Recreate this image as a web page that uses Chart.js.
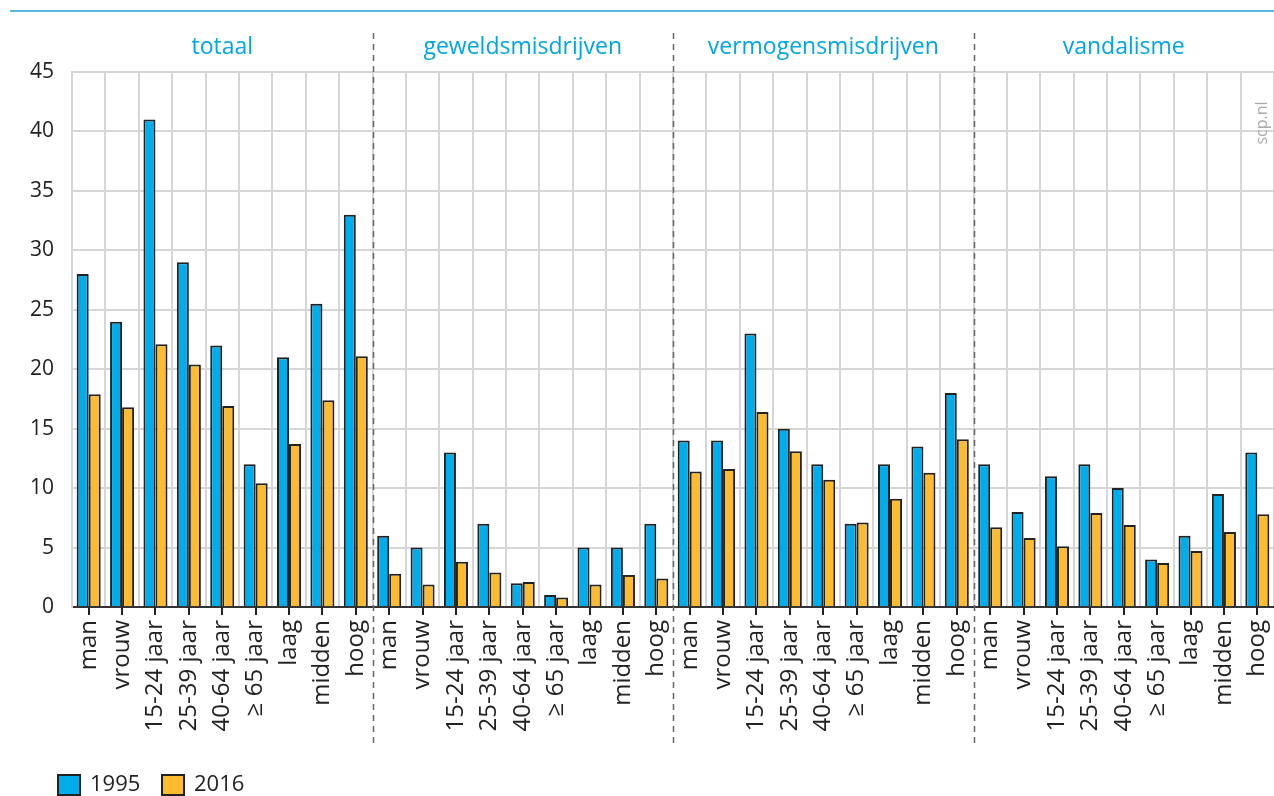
<!DOCTYPE html>
<html>
<head>
<meta charset="utf-8">
<script src="https://cdn.jsdelivr.net/npm/chart.js@4/dist/chart.umd.min.js"></script>
<style>
  html, body { margin: 0; padding: 0; background: #fff; }
  #wrap { width: 1274px; height: 796px; }
</style>
</head>
<body>
<div id="wrap"><canvas id="chart" width="1274" height="796"></canvas></div>
<script>
  // groups and sub-categories
  const groups = ["totaal", "geweldsmisdrijven", "vermogensmisdrijven", "vandalisme"];
  const subLabels = ["man", "vrouw", "15-24 jaar", "25-39 jaar", "40-64 jaar", "\u2265 65 jaar", "laag", "midden", "hoog"];

  // values per group (1995 / 2016)
  const v1995 = [
    28, 24, 41, 29, 22, 12, 21, 25.5, 33,
    6, 5, 13, 7, 2, 1, 5, 5, 7,
    14, 14, 23, 15, 12, 7, 12, 13.5, 18,
    12, 8, 11, 12, 10, 4, 6, 9.5, 13
  ];
  const v2016 = [
    17.9, 16.8, 22.1, 20.4, 16.9, 10.4, 13.7, 17.4, 21.1,
    2.8, 1.9, 3.8, 2.9, 2.1, 0.8, 1.9, 2.7, 2.4,
    11.4, 11.6, 16.4, 13.1, 10.7, 7.1, 9.1, 11.3, 14.1,
    6.7, 5.8, 5.1, 7.9, 6.9, 3.7, 4.7, 6.3, 7.8
  ];
  const yTicks = [0, 5, 10, 15, 20, 25, 30, 35, 40, 45];

  const labels = [];
  groups.forEach(function () { subLabels.forEach(function (s) { labels.push(s); }); });

  const FONT = "'Open Sans', 'Noto Sans', sans-serif";
  const CYAN = "#00a6e2";

  const decorations = {
    id: "decorations",
    afterDraw: function (chart) {
      const ctx = chart.ctx;
      const x = chart.scales.x;
      const area = chart.chartArea;
      const n = subLabels.length;
      ctx.save();

      // top rule
      ctx.strokeStyle = "#5ab6e4";
      ctx.lineWidth = 2;
      ctx.beginPath();
      ctx.moveTo(10, 11);
      ctx.lineTo(chart.width, 11);
      ctx.stroke();

      // tick marks at category centres
      ctx.strokeStyle = "#222";
      ctx.lineWidth = 2;
      for (let i = 0; i < labels.length; i++) {
        const px = Math.round(x.getPixelForTick(i));
        ctx.beginPath();
        ctx.moveTo(px, area.bottom);
        ctx.lineTo(px, area.bottom + 8);
        ctx.stroke();
      }

      // group separators and titles
      ctx.font = "23px " + FONT;
      ctx.textAlign = "center";
      ctx.textBaseline = "middle";
      for (let g = 0; g < groups.length; g++) {
        const left = g === 0 ? area.left : (x.getPixelForTick(g * n - 1) + x.getPixelForTick(g * n)) / 2;
        const right = g === groups.length - 1 ? area.right : (x.getPixelForTick((g + 1) * n - 1) + x.getPixelForTick((g + 1) * n)) / 2;
        ctx.fillStyle = CYAN;
        ctx.fillText(groups[g], (left + right) / 2, 47);
        if (g > 0) {
          ctx.strokeStyle = "#666";
          ctx.lineWidth = 1.5;
          ctx.setLineDash([6, 5]);
          ctx.beginPath();
          ctx.moveTo(Math.round(left) + 0.5, 33);
          ctx.lineTo(Math.round(left) + 0.5, 743);
          ctx.stroke();
          ctx.setLineDash([]);
        }
      }

      // source mark
      ctx.save();
      ctx.translate(1262, 123);
      ctx.rotate(-Math.PI / 2);
      ctx.font = "16px " + FONT;
      ctx.fillStyle = "#aaa";
      ctx.fillText("scp.nl", 0, 0);
      ctx.restore();

      // legend
      let lx = 58;
      chart.data.datasets.forEach(function (ds) {
        ctx.fillStyle = ds.backgroundColor;
        ctx.fillRect(lx, 775, 22, 20);
        ctx.strokeStyle = "#222";
        ctx.lineWidth = 2;
        ctx.strokeRect(lx, 775, 22, 20);
        ctx.fillStyle = "#222";
        ctx.font = "22px " + FONT;
        ctx.textAlign = "left";
        ctx.fillText(ds.label, lx + 32, 785);
        lx += 104;
      });
      ctx.restore();
    }
  };

  new Chart(document.getElementById("chart"), {
    type: "bar",
    data: {
      labels: labels,
      datasets: [
        { label: "1995", data: v1995, backgroundColor: "#00adec", borderColor: "#222", borderWidth: 2 },
        { label: "2016", data: v2016, backgroundColor: "#fdbb30", borderColor: "#222", borderWidth: 2 }
      ]
    },
    options: {
      responsive: false,
      animation: false,
      layout: { padding: { top: 72, right: 0, bottom: 53, left: 0 } },
      datasets: { bar: { categoryPercentage: 0.72, barPercentage: 1 } },
      plugins: { legend: { display: false }, tooltip: { enabled: false } },
      scales: {
        x: {
          grid: { color: "#d6d6d6", lineWidth: 2, offset: true, drawTicks: false },
          border: { color: "#333", width: 2 },
          ticks: {
            autoSkip: false, maxRotation: 90, minRotation: 90, padding: 13,
            color: "#222", font: { family: FONT, size: 24 }
          },
          afterFit: function (scale) {
            scale.height = 136;
            scale.paddingLeft = 0;
            scale.paddingRight = 0;
          }
        },
        y: {
          min: 0, max: 45,
          afterBuildTicks: function (scale) { scale.ticks = yTicks.map(function (v) { return { value: v }; }); },
          grid: { color: "#d6d6d6", lineWidth: 2, drawTicks: false },
          border: { color: "#d6d6d6", width: 2 },
          ticks: { padding: 18, color: "#222", font: { family: FONT, size: 21 } },
          afterFit: function (scale) {
            scale.width = 72;
            scale.paddingTop = 0;
            scale.paddingBottom = 0;
          }
        }
      }
    },
    plugins: [decorations]
  });
</script>
</body>
</html>
